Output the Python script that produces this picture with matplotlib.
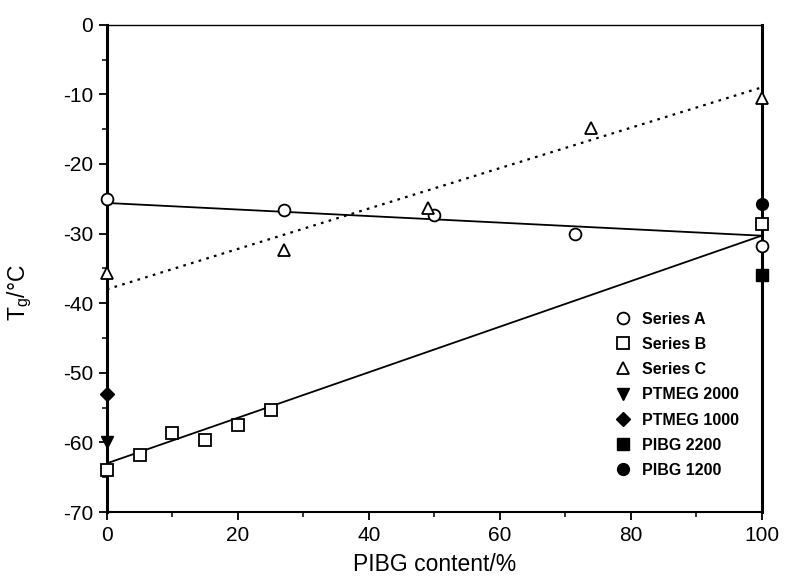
import matplotlib
matplotlib.use("Agg")
import matplotlib.pyplot as plt
from matplotlib.ticker import MultipleLocator

plt.rcParams['font.family'] = ['Liberation Sans', 'DejaVu Sans']
plt.rcParams['axes.unicode_minus'] = False

# Data
seriesA_x = [0, 27, 50, 71.5, 100]
seriesA_y = [-25.0, -26.6, -27.3, -30.0, -31.8]
seriesB_x = [0, 5, 10, 15, 20, 25, 100]
seriesB_y = [-64.0, -61.8, -58.7, -59.6, -57.5, -55.3, -28.6]
seriesC_x = [0, 27, 49, 74, 100]
seriesC_y = [-35.7, -32.3, -26.3, -14.9, -10.5]
ptmeg2000_x = [0]
ptmeg2000_y = [-60.0]
ptmeg1000_x = [0]
ptmeg1000_y = [-53.0]
pibg2200_x = [100]
pibg2200_y = [-35.9]
pibg1200_x = [100]
pibg1200_y = [-25.7]

fit_x = [0, 100]
fitA_y = [-25.6, -30.3]
fitB_y = [-63.0, -30.3]
fitC_y = [-38.0, -9.0]

xticks = [0, 20, 40, 60, 80, 100]
yticks = [0, -10, -20, -30, -40, -50, -60, -70]

fig = plt.figure(figsize=(7.86, 5.76), dpi=100)
ax = fig.add_axes([0.136, 0.111, 0.833, 0.846])

ax.plot(fit_x, fitA_y, color='black', lw=1.3, zorder=2)
ax.plot(fit_x, fitB_y, color='black', lw=1.3, zorder=2)
ax.plot(fit_x, fitC_y, color='black', lw=1.6, linestyle=(0, (1.2, 2.4)), zorder=2)

ms = 8.5
mew = 1.3
ax.plot(seriesA_x, seriesA_y, 'o', ms=ms, mfc='white', mec='black', mew=mew, label='Series A', clip_on=False, zorder=4)
ax.plot(seriesB_x, seriesB_y, 's', ms=ms-0.5, mfc='white', mec='black', mew=mew, label='Series B', clip_on=False, zorder=4)
ax.plot(seriesC_x, seriesC_y, '^', ms=ms+0.5, mfc='white', mec='black', mew=mew, label='Series C', clip_on=False, zorder=4)
ax.plot(ptmeg2000_x, ptmeg2000_y, 'v', ms=ms+0.5, color='black', label='PTMEG 2000', clip_on=False, zorder=4)
ax.plot(ptmeg1000_x, ptmeg1000_y, 'D', ms=ms-1.5, color='black', label='PTMEG 1000', clip_on=False, zorder=4)
ax.plot(pibg2200_x, pibg2200_y, 's', ms=ms-0.5, color='black', label='PIBG 2200', clip_on=False, zorder=4)
ax.plot(pibg1200_x, pibg1200_y, 'o', ms=ms, color='black', label='PIBG 1200', clip_on=False, zorder=4)

ax.set_xlim(0, 100)
ax.set_ylim(-70, 0)
ax.set_xticks(xticks)
ax.set_yticks(yticks)
ax.xaxis.set_minor_locator(MultipleLocator(10))
ax.yaxis.set_minor_locator(MultipleLocator(5))
ax.tick_params(which='major', direction='out', length=6, width=1.3, labelsize=15, pad=4)
ax.tick_params(which='minor', direction='out', length=3.5, width=1.1)
ax.tick_params(top=False, right=False)

for side, w in [('left', 2.2), ('right', 2.2), ('bottom', 1.5), ('top', 1.0)]:
    ax.spines[side].set_linewidth(w)

ax.set_xlabel('PIBG content/%', fontsize=16.5)
ax.set_ylabel('T$_\\mathregular{g}$/°C', fontsize=16.5)
ax.xaxis.set_label_coords(0.5, -0.083)
ax.yaxis.set_label_coords(-0.112, 0.45)

leg = ax.legend(loc='upper left', bbox_to_anchor=(0.782, 0.459), bbox_transform=fig.transFigure,
                frameon=False, handlelength=1.0, handletextpad=0.7, labelspacing=0.64,
                borderpad=0, borderaxespad=0, prop={'size': 11.5, 'weight': 'bold'})

fig.savefig('out.png', dpi=100)
